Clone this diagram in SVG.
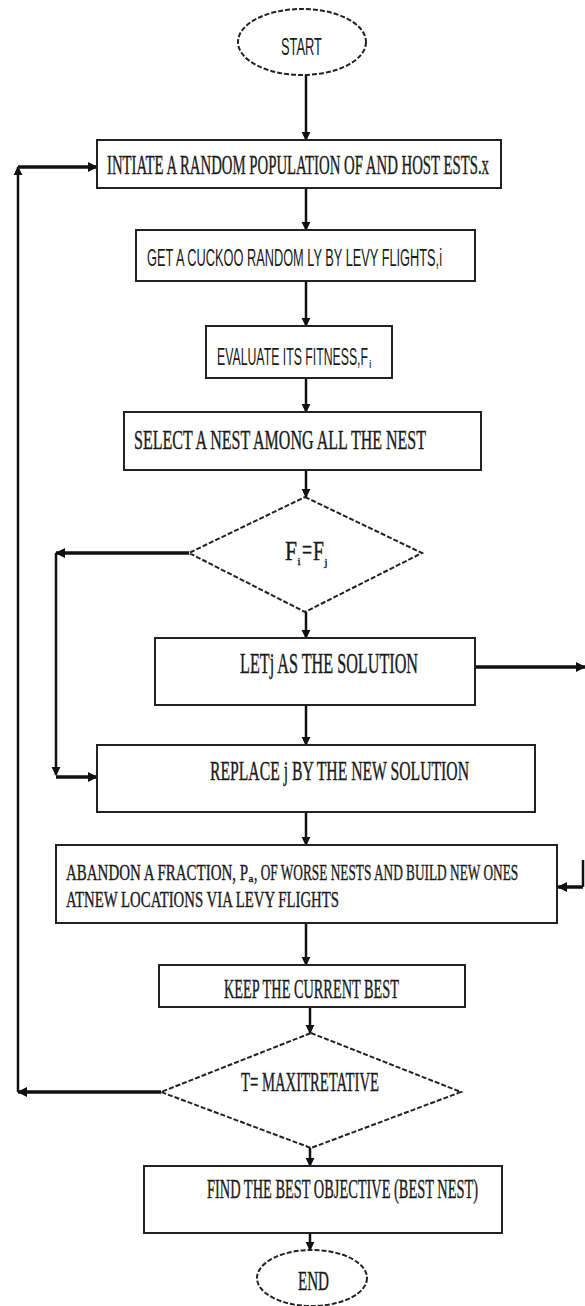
<svg xmlns="http://www.w3.org/2000/svg" width="585" height="1306" viewBox="0 0 585 1306">
<defs>
<marker id="ah" viewBox="0 0 10 10" refX="9" refY="5" markerWidth="9" markerHeight="10" markerUnits="userSpaceOnUse" orient="auto">
<path d="M0,0 L10,5 L0,10 Z" fill="#111"/>
</marker>
<marker id="ahb" viewBox="0 0 10 10" refX="9" refY="5" markerWidth="10" markerHeight="11" markerUnits="userSpaceOnUse" orient="auto">
<path d="M0,0 L10,5 L0,10 Z" fill="#111"/>
</marker>
</defs>
<style>
.box{fill:#fff;stroke:#222;stroke-width:2}
.dash{fill:#fff;stroke:#222;stroke-width:2;stroke-dasharray:5 2}
.serif{font-family:"Liberation Serif","Times New Roman",serif;font-size:27px;fill:#1a1a1a;stroke:#1a1a1a;stroke-width:0.4}
.sans{font-family:"Liberation Sans",Arial,sans-serif;font-size:24px;fill:#1a1a1a}
.sub{font-size:11px}
.big{font-size:29px}
.mid{font-size:24px}
.con{stroke:#111;stroke-width:2.5;fill:none}
.loop{stroke:#111;stroke-width:3.5;fill:none}
</style>
<rect width="585" height="1306" fill="#fff"/>
<g id="connectors">
<line class="con" x1="306" y1="75" x2="306" y2="140" marker-end="url(#ah)"/>
<line class="con" x1="306" y1="188" x2="306" y2="230" marker-end="url(#ah)"/>
<line class="con" x1="306" y1="281" x2="306" y2="326" marker-end="url(#ah)"/>
<line class="con" x1="306" y1="378" x2="306" y2="412" marker-end="url(#ah)"/>
<line class="con" x1="306" y1="470" x2="306" y2="497" marker-end="url(#ah)"/>
<line class="con" x1="306" y1="612" x2="306" y2="638" marker-end="url(#ah)"/>
<line class="con" x1="306" y1="705" x2="306" y2="745" marker-end="url(#ah)"/>
<line class="con" x1="306" y1="812" x2="306" y2="845" marker-end="url(#ah)"/>
<line class="con" x1="306" y1="923" x2="306" y2="965" marker-end="url(#ah)"/>
<line class="con" x1="310" y1="1007" x2="310" y2="1033" marker-end="url(#ah)"/>
<line class="con" x1="310" y1="1148" x2="310" y2="1166" marker-end="url(#ah)"/>
<line class="con" x1="310" y1="1233" x2="310" y2="1250" marker-end="url(#ah)"/>
<line class="loop" x1="189" y1="553" x2="56" y2="553" marker-end="url(#ahb)"/>
<line class="con" x1="56" y1="553" x2="56" y2="775" marker-end="url(#ah)"/>
<line class="loop" x1="56" y1="777" x2="97" y2="777" marker-end="url(#ahb)"/>
<line class="loop" x1="475" y1="667" x2="585" y2="667" marker-end="url(#ahb)"/>
<line class="con" x1="583" y1="860" x2="583" y2="887"/>
<line class="loop" x1="583" y1="887" x2="558" y2="887" marker-end="url(#ahb)"/>
<line class="loop" x1="161" y1="1092" x2="18" y2="1092" marker-end="url(#ahb)"/>
<line class="con" x1="18" y1="1092" x2="18" y2="167" marker-end="url(#ah)"/>
<line class="loop" x1="18" y1="167" x2="97" y2="167" marker-end="url(#ahb)"/>
</g>
<g id="start">
<ellipse class="dash" cx="302" cy="42" rx="64" ry="33"/>
<text class="sans" transform="translate(281,55) scale(0.52,1)" textLength="78.8" lengthAdjust="spacingAndGlyphs">START</text>
</g>
<g id="init">
<rect class="box" x="97" y="140" width="404" height="48"/>
<text class="serif" transform="translate(107,174) scale(0.536,1)" textLength="712.7" lengthAdjust="spacingAndGlyphs">INTIATE A RANDOM POPULATION OF AND HOST ESTS.x</text>
</g>
<g id="cuckoo">
<rect class="box" x="136" y="230" width="339" height="51"/>
<text class="sans" transform="translate(147,266) scale(0.527,1)" textLength="559.8" lengthAdjust="spacingAndGlyphs">GET A CUCKOO RANDOM LY BY LEVY FLIGHTS,i</text>
</g>
<g id="evaluate">
<rect class="box" x="206" y="326" width="186" height="52"/>
<text class="sans" transform="translate(217,365) scale(0.505,1)" textLength="299" lengthAdjust="spacingAndGlyphs">EVALUATE ITS FITNESS,F</text>
<text class="sans sub" x="369" y="368">i</text>
</g>
<g id="select">
<rect class="box" x="124" y="412" width="357" height="58"/>
<text class="serif" transform="translate(134,449) scale(0.583,1)" textLength="500.9" lengthAdjust="spacingAndGlyphs">SELECT A NEST AMONG ALL THE NEST</text>
</g>
<g id="decision1">
<polygon class="dash" points="305,497 422,553 305,612 189,553"/>
<text class="serif" transform="translate(285,560) scale(0.8,1)" textLength="15" lengthAdjust="spacingAndGlyphs">F</text>
<text class="serif sub" x="297.5" y="565">i</text>
<text class="serif" transform="translate(302,559) scale(0.66,1)" textLength="15.2" lengthAdjust="spacingAndGlyphs">=</text>
<text class="serif" transform="translate(313,560) scale(0.72,1)" textLength="15.2" lengthAdjust="spacingAndGlyphs">F</text>
<text class="serif sub" x="324.5" y="566">j</text>
</g>
<g id="letj">
<rect class="box" x="155" y="638" width="320" height="67"/>
<text class="serif big" transform="translate(240,673) scale(0.554,1)" textLength="321.3" lengthAdjust="spacingAndGlyphs">LETj AS THE SOLUTION</text>
</g>
<g id="replace">
<rect class="box" x="97" y="745" width="438" height="67"/>
<text class="serif" transform="translate(210,780) scale(0.578,1)" textLength="448.1" lengthAdjust="spacingAndGlyphs">REPLACE j BY THE NEW SOLUTION</text>
</g>
<g id="abandon">
<rect class="box" x="56" y="845" width="501" height="78"/>
<text class="serif mid" transform="translate(66,880) scale(0.618,1)" textLength="294.6" lengthAdjust="spacingAndGlyphs">ABANDON A FRACTION, P</text>
<text class="serif sub" x="248.5" y="882">a</text>
<text class="serif mid" transform="translate(254,880) scale(0.552,1)" textLength="478.6" lengthAdjust="spacingAndGlyphs">, OF WORSE NESTS AND BUILD NEW ONES</text>
<text class="serif mid" transform="translate(66,907) scale(0.604,1)" textLength="451.9" lengthAdjust="spacingAndGlyphs">ATNEW LOCATIONS VIA LEVY FLIGHTS</text>
</g>
<g id="keep">
<rect class="box" x="159" y="965" width="306" height="42"/>
<text class="serif" transform="translate(224,998) scale(0.527,1)" textLength="332.1" lengthAdjust="spacingAndGlyphs">KEEP THE CURRENT BEST</text>
</g>
<g id="decision2">
<polygon class="dash" points="311,1033 461,1092 311,1148 161,1092"/>
<text class="serif" transform="translate(241,1091) scale(0.533,1)" textLength="258.9" lengthAdjust="spacingAndGlyphs">T= MAXITRETATIVE</text>
</g>
<g id="find">
<rect class="box" x="144" y="1166" width="358" height="67"/>
<text class="serif" transform="translate(207,1198) scale(0.531,1)" textLength="510.4" lengthAdjust="spacingAndGlyphs">FIND THE BEST OBJECTIVE (BEST NEST)</text>
</g>
<g id="end">
<ellipse class="dash" cx="312" cy="1278" rx="55" ry="28"/>
<text class="serif" transform="translate(298,1290) scale(0.559,1)" textLength="55.5" lengthAdjust="spacingAndGlyphs">END</text>
</g>
</svg>
